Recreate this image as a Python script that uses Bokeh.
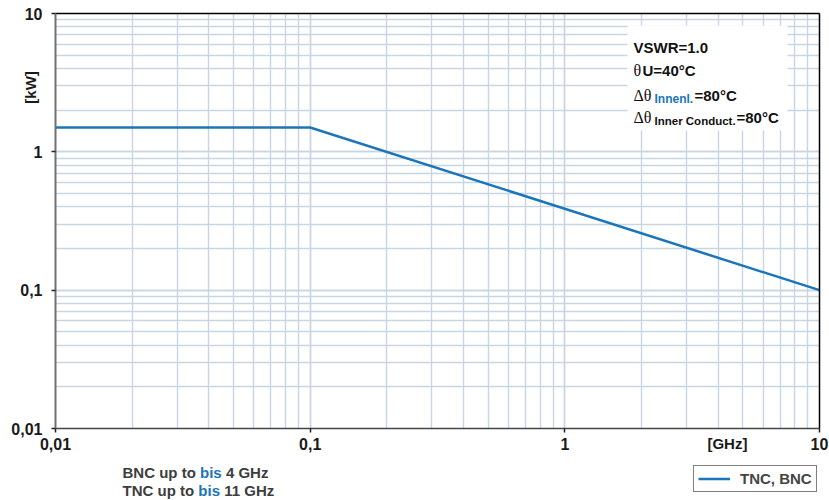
from math import log10
from bokeh.plotting import figure
from bokeh.layouts import column
from bokeh.models import (Label, Legend, LegendItem, LogAxis, FixedTicker,
                          LogTicker, BoxAnnotation, Range1d)
from bokeh.embed import file_html
from bokeh.resources import INLINE

# ---- data ----
freq_ghz = [0.01, 0.1, 10]
power_kw = [1.5, 1.5, 0.1]
series_name = "TNC, BNC"
x_ticks = [0.01, 0.1, 1, 10]
x_tick_labels = ["0,01", "0,1", "1", "10"]
y_ticks = [0.01, 0.1, 1, 10]
y_tick_labels = ["0,01", "0,1", "1", "10"]
x_unit = "[GHz]"
y_unit = "[kW]"
notes = [("BNC up to", "bis", "4 GHz"), ("TNC up to", "bis", "11 GHz")]

BLUE = "#1b75bb"
GRID = "#c8d5e3"
FONT = "Liberation Sans"
SERIF = "Liberation Serif"
GREY = "#3d3d3d"

W, H_MAIN, H_STRIP = 829, 458, 42
X0, X1, Y0, Y1 = 0.01, 10, 0.01, 10
FR_L, FR_R, FR_T, FR_B = 55, 819, 13, 428   # frame edges (px)

p = figure(width=W, height=H_MAIN, x_axis_type="log", y_axis_type="log",
           x_range=(X0, X1), y_range=(Y0, Y1),
           output_backend="svg", toolbar_location=None,
           min_border_left=FR_L, min_border_right=W - FR_R,
           min_border_top=FR_T, min_border_bottom=H_MAIN - FR_B)
p.outline_line_color = None
p.background_fill_color = "white"

for ax, ticks, labels in ((p.xaxis[0], x_ticks, x_tick_labels),
                          (p.yaxis[0], y_ticks, y_tick_labels)):
    ax.ticker = LogTicker(num_minor_ticks=10)
    ax.major_label_overrides = {t: l for t, l in zip(ticks, labels)}
    ax.major_label_text_font = FONT
    ax.major_label_text_font_style = "bold"
    ax.major_label_text_font_size = "16px"
    ax.major_label_text_color = "#1a1a1a"
    ax.major_tick_in = 0
    ax.major_tick_out = 4
    ax.major_tick_line_color = "#222222"
    ax.major_tick_line_width = 1.5
    ax.minor_tick_line_color = None

p.xaxis.axis_line_color = "#444444"
p.xaxis.axis_line_width = 1.5
p.xaxis.major_label_standoff = 5
p.yaxis.axis_line_color = "#707070"
p.yaxis.axis_line_width = 2
p.yaxis.major_label_standoff = 9

# grid: every 1..9 of each decade
for g, lo, hi in ((p.xgrid[0], X0, X1), (p.ygrid[0], Y0, Y1)):
    g.ticker = LogTicker(num_minor_ticks=10)
    g.bounds = (lo, hi)
    g.grid_line_color = GRID
    g.grid_line_width = 1.4
    g.minor_grid_line_color = GRID
    g.minor_grid_line_width = 1.4

# black frame border on top and right
for side in ("above", "right"):
    p.add_layout(LogAxis(ticker=FixedTicker(ticks=[]), axis_line_color="black",
                         axis_line_width=1.5, major_tick_line_color=None,
                         minor_tick_line_color=None,
                         major_label_text_font_size="0px"), side)


def px_to_log(px, a, b, lo, hi):
    return round(10 ** (log10(lo) + (px - a) / (b - a) * (log10(hi) - log10(lo))), 2)


def unit_axis(pos, text, standoff, orientation):
    return LogAxis(ticker=FixedTicker(ticks=[pos]),
                   major_label_overrides={pos: text},
                   axis_line_color=None, major_tick_line_color=None,
                   minor_tick_line_color=None, major_tick_out=0,
                   major_tick_in=0, major_label_standoff=standoff,
                   major_label_orientation=orientation,
                   major_label_text_font=FONT,
                   major_label_text_font_style="bold",
                   major_label_text_font_size="15px",
                   major_label_text_color="#1a1a1a")


# unit labels, placed as tick labels of label-only axes
p.add_layout(unit_axis(px_to_log(727, FR_L, FR_R, X0, X1), x_unit, -18,
                       "horizontal"), "below")
p.add_layout(unit_axis(px_to_log(FR_B - 87, 0, FR_B - FR_T, Y0, Y1), y_unit,
                       -31, "vertical"), "left")

r = p.line(freq_ghz, power_kw, line_color=BLUE, line_width=2.5)

# white box behind the conditions text (frame-relative px, y up)
p.add_layout(BoxAnnotation(left=572, right=732, top=403, bottom=298,
                           left_units="screen", right_units="screen",
                           top_units="screen", bottom_units="screen",
                           fill_color="white", fill_alpha=1.0,
                           line_color=None))


def lab(fig, x, y, text, size, color="#111111", font=FONT, style="bold"):
    fig.add_layout(Label(x=x, y=y, x_units="screen", y_units="screen",
                         text=text, text_font=font, text_font_size=f"{size}px",
                         text_font_style=style, text_color=color,
                         text_align="left", text_baseline="alphabetic"))


lab(p, 578, 381, "VSWR=1.0", 15)
lab(p, 578, 358, "θ", 16, font=SERIF, style="normal")
lab(p, 587, 358, "U=40°C", 15)
lab(p, 578, 333, "Δθ", 16, font=SERIF, style="normal")
lab(p, 599, 330, "Innenl.", 12, color=BLUE)
lab(p, 639, 333, "=80°C", 15)
lab(p, 578, 311, "Δθ", 16, font=SERIF, style="normal")
lab(p, 599, 308, "Inner Conduct.", 11.5)
lab(p, 681, 311, "=80°C", 15)

# ---- strip below the chart: notes and legend ----
s = figure(width=W, height=H_STRIP, x_range=Range1d(0, W),
           y_range=Range1d(0, H_STRIP), output_backend="svg",
           toolbar_location=None, x_axis_location=None, y_axis_location=None,
           min_border=0)
s.outline_line_color = None
s.grid.visible = False
dx = 0
try:
    p.frame_align = False
    s.frame_align = False
except Exception:
    dx = -FR_L

# advance widths of the pieces at 15px (text, following space)
adv = {"BNC up to": 77.5, "TNC up to": 75.8, "bis": 25.9}
for (a, b, c), base in zip(notes, (H_STRIP - 14, H_STRIP - 32)):
    x = 122 + dx
    lab(s, x, base, a, 15, color=GREY)
    x += adv[a]
    lab(s, x, base, b, 15, color=BLUE)
    x += adv[b]
    lab(s, x, base, c, 15, color=GREY)

# legend key renderer: no visible points of its own
key = s.line(x=[float("nan")], y=[float("nan")], line_color=BLUE, line_width=2.5)
legend = Legend(items=[LegendItem(label=series_name, renderers=[key])],
                location=(693 + dx, 8), border_line_color="black",
                border_line_width=1.5, background_fill_color="white",
                background_fill_alpha=1.0, padding=4, margin=0,
                glyph_width=32, glyph_height=15, label_height=15,
                label_standoff=10, label_text_font=FONT,
                label_text_font_style="bold", label_text_font_size="15px",
                spacing=0)
s.add_layout(legend, "center")

open("out.html", "w").write(file_html(column(p, s, spacing=0), INLINE))
